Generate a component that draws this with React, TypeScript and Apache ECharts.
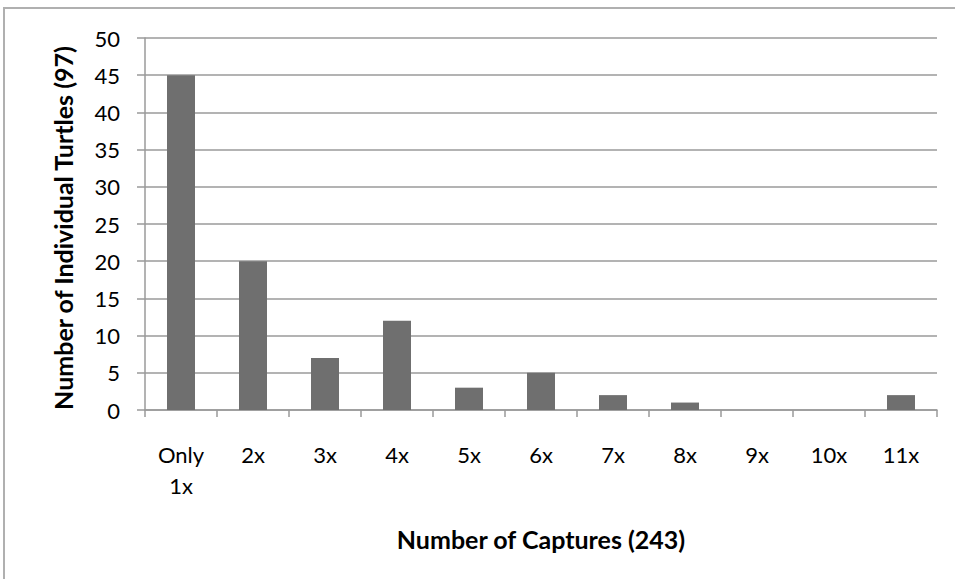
import React, { useEffect, useRef } from "react";
import * as echarts from "echarts";

const categories = ["Only\n1x", "2x", "3x", "4x", "5x", "6x", "7x", "8x", "9x", "10x", "11x"];
const turtles = [45, 20, 7, 12, 3, 5, 2, 1, 0, 0, 2];
const yAxisName = "Number of Individual Turtles (97)";
const xAxisName = "Number of Captures (243)";

const FONT = "Lato, 'Open Sans', sans-serif";

export default function App() {
  const ref = useRef<HTMLDivElement>(null);
  useEffect(() => {
    if (!ref.current) return;
    const chart = echarts.init(ref.current, undefined, { renderer: "svg" });
    chart.setOption({
      animation: false,
      backgroundColor: "#ffffff",
      grid: { left: 145, top: 38, right: 18, bottom: 169, containLabel: false },
      graphic: [
        {
          type: "rect",
          shape: { x: 4, y: 8, width: 1000, height: 1000 },
          style: { fill: "none", stroke: "#b0b0b0", lineWidth: 2 },
          silent: true,
        },
        {
          type: "text",
          x: 63,
          y: 228,
          rotation: Math.PI / 2,
          style: {
            text: yAxisName,
            font: `bold 25px ${FONT}`,
            fill: "#000",
            align: "center",
            verticalAlign: "middle",
          },
        },
        {
          type: "text",
          x: 541,
          y: 539,
          style: {
            text: xAxisName,
            font: `bold 25px ${FONT}`,
            fill: "#000",
            align: "center",
            verticalAlign: "middle",
          },
        },
      ],
      xAxis: {
        type: "category",
        data: categories,
        axisLine: { lineStyle: { color: "#9a9a9a", width: 1.5 } },
        axisTick: { show: true, length: 7, inside: false, alignWithLabel: false, lineStyle: { color: "#9a9a9a", width: 1.5 } },
        axisLabel: {
          color: "#000",
          fontFamily: FONT,
          fontSize: 22,
          margin: 29,
          lineHeight: 31,
          verticalAlign: "top",
        },
      },
      yAxis: {
        type: "value",
        min: 0,
        max: 50,
        interval: 5,
        axisLine: { show: true, lineStyle: { color: "#9a9a9a", width: 1.5 } },
        axisTick: { show: true, length: 8, lineStyle: { color: "#9a9a9a", width: 1.5 } },
        splitLine: { show: true, lineStyle: { color: "#9a9a9a", width: 1.5 } },
        axisLabel: { color: "#000", fontFamily: FONT, fontSize: 22, margin: 25 },
      },
      series: [
        {
          type: "bar",
          data: turtles,
          barWidth: 28,
          itemStyle: { color: "#6f6f6f" },
        },
      ],
    });
    return () => chart.dispose();
  }, []);
  return (
    <div
      ref={ref}
      style={{ position: "fixed", left: 0, top: 0, width: 955, height: 579 }}
    />
  );
}
